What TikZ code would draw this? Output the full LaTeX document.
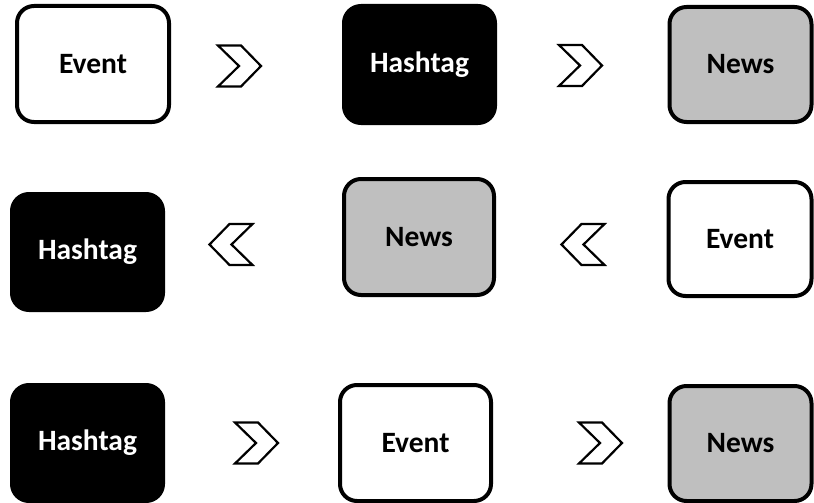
\documentclass[tikz,border=0pt]{standalone}
\usepackage{fontspec}
\setmainfont{Carlito}
\definecolor{boxgray}{RGB}{191,191,191}
\begin{document}
\begin{tikzpicture}[x=1pt,y=-1pt,
  box/.style={draw=black, line width=4pt, rounded corners=17pt, inner sep=0pt,
    font=\fontsize{29.5}{34}\selectfont\bfseries},
  whitebox/.style={box, fill=white, text=black},
  blackbox/.style={box, fill=black, text=white},
  graybox/.style={box, fill=boxgray, text=black},
  chevr/.pic={\draw[line width=2.2pt, fill=white, line join=miter]
     (-21.5,-20.5) -- (1.5,-20.5) -- (21.5,0) -- (1.5,20.5) -- (-21.5,20.5) -- (-0.5,0) -- cycle;},
  chevl/.pic={\draw[line width=2.2pt, fill=white, line join=miter]
     (21.5,-20.5) -- (-1.5,-20.5) -- (-21.5,0) -- (-1.5,20.5) -- (21.5,20.5) -- (0.5,0) -- cycle;}
]
\useasboundingbox (0,0) rectangle (814,503);
% row 1
\node[whitebox, minimum width=152pt, minimum height=116pt] (e1) at (93,64) {Event};
\node[blackbox, minimum width=151pt, minimum height=117pt] (h1) at (419.5,64.5) {Hashtag};
\node[graybox, minimum width=142pt, minimum height=115pt] (n1) at (740.5,64.5) {News};
\pic at (239.5,66) {chevr};
\pic at (580.5,65.5) {chevr};
% row 2
\node[blackbox, minimum width=151pt, minimum height=116pt] (h2) at (87.5,252) {Hashtag};
\node[graybox, minimum width=150pt, minimum height=116pt] (n2) at (419,237) {News};
\node[whitebox, minimum width=143pt, minimum height=114pt] (e2) at (740,239) {Event};
\pic at (231,244.5) {chevl};
\pic at (583,244.5) {chevl};
% row 3
\node[blackbox, minimum width=151pt, minimum height=116pt] (h3) at (87.5,443) {Hashtag};
\node[whitebox, minimum width=151pt, minimum height=116pt] (e3) at (415.5,443) {Event};
\node[graybox, minimum width=142pt, minimum height=115pt] (n3) at (740.5,443.5) {News};
\pic at (256.5,443) {chevr};
\pic at (600.5,443) {chevr};
\end{tikzpicture}
\end{document}
